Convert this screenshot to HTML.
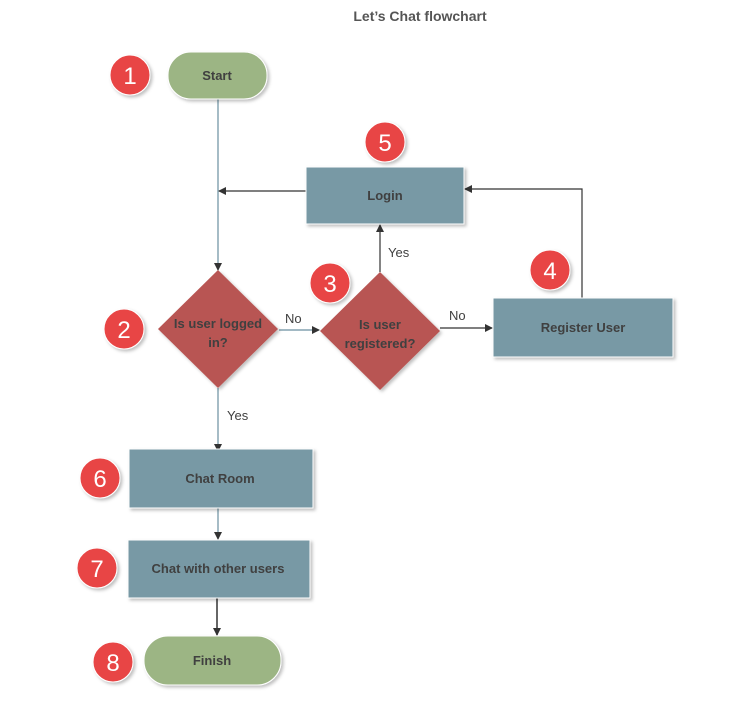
<!DOCTYPE html>
<html><head><style>
body{margin:0;background:#fff;width:731px;height:720px;overflow:hidden}
</style></head><body>
<svg width="731" height="720" xmlns="http://www.w3.org/2000/svg" font-family="Liberation Sans, sans-serif">
<defs>
<marker id="a" markerWidth="8" markerHeight="8" refX="7" refY="4" orient="auto" markerUnits="userSpaceOnUse"><path d="M0,0 L8,4 L0,8 z" fill="#333"/></marker>
<filter id="s" x="-20%" y="-20%" width="150%" height="150%"><feDropShadow dx="2" dy="2" stdDeviation="1.5" flood-color="#000" flood-opacity="0.25"/></filter>
</defs>
<text x="420" y="21" text-anchor="middle" font-size="14" font-weight="bold" fill="#555">Let’s Chat flowchart</text>
<g stroke="#333" stroke-width="1.2" fill="none">
<line x1="218" y1="99" x2="218" y2="270" stroke="#6a8fa0" marker-end="url(#a)"/>
<line x1="306" y1="191" x2="219" y2="191" marker-end="url(#a)"/>
<polyline points="582,298 582,189 465,189" marker-end="url(#a)"/>
<line x1="380" y1="272" x2="380" y2="225" marker-end="url(#a)"/>
<line x1="279" y1="330" x2="319" y2="330" stroke="#6a8fa0" marker-end="url(#a)"/>
<line x1="440" y1="328" x2="492" y2="328" marker-end="url(#a)"/>
<line x1="218" y1="388" x2="218" y2="451" stroke="#6a8fa0" marker-end="url(#a)"/>
<line x1="218" y1="508" x2="218" y2="539" stroke="#6a8fa0" marker-end="url(#a)"/>
<line x1="217" y1="598" x2="217" y2="635" stroke="#333" stroke-width="1.5" marker-end="url(#a)"/>
</g>
<g filter="url(#s)">
<rect x="168" y="52" width="99" height="47" rx="23" fill="#9cb584" stroke="#fff"/>
<rect x="306" y="167" width="158" height="57" fill="#7899a5" stroke="#fff"/>
<polygon points="218,270 278,329 218,388 158,329" fill="#b85552"/>
<polygon points="380,272 440,331 380,390 320,331" fill="#b85552"/>
<rect x="493" y="298" width="180" height="59" fill="#7899a5" stroke="#fff"/>
<rect x="129" y="449" width="184" height="59" fill="#7899a5" stroke="#fff"/>
<rect x="128" y="540" width="182" height="58" fill="#7899a5" stroke="#fff"/>
<rect x="144" y="636" width="137" height="49" rx="24" fill="#9cb584" stroke="#fff"/>
</g>
<g font-weight="bold" font-size="13" fill="#404040" text-anchor="middle">
<text x="217" y="80">Start</text>
<text x="385" y="200">Login</text>
<text x="218" y="328">Is user logged</text>
<text x="218" y="347">in?</text>
<text x="380" y="329">Is user</text>
<text x="380" y="348">registered?</text>
<text x="583" y="332">Register User</text>
<text x="220" y="483">Chat Room</text>
<text x="218" y="573">Chat with other users</text>
<text x="212" y="665">Finish</text>
</g>
<g font-size="13" fill="#404040">
<text x="285" y="323">No</text>
<text x="449" y="320">No</text>
<text x="388" y="257">Yes</text>
<text x="227" y="420">Yes</text>
</g>
<g filter="url(#s)" fill="#e84444" stroke="#fff" stroke-width="1">
<circle cx="130" cy="75" r="20"/><circle cx="385" cy="142" r="20"/>
<circle cx="330" cy="283" r="20"/><circle cx="550" cy="270" r="20"/>
<circle cx="124" cy="329" r="20"/><circle cx="100" cy="478" r="20"/>
<circle cx="97" cy="568" r="20"/><circle cx="113" cy="662" r="20"/>
</g>
<g fill="#fff" font-size="24" text-anchor="middle">
<text x="130" y="84">1</text><text x="385" y="151">5</text>
<text x="330" y="292">3</text><text x="550" y="279">4</text>
<text x="124" y="338">2</text><text x="100" y="487">6</text>
<text x="97" y="577">7</text><text x="113" y="671">8</text>
</g>
</svg>
</body></html>
